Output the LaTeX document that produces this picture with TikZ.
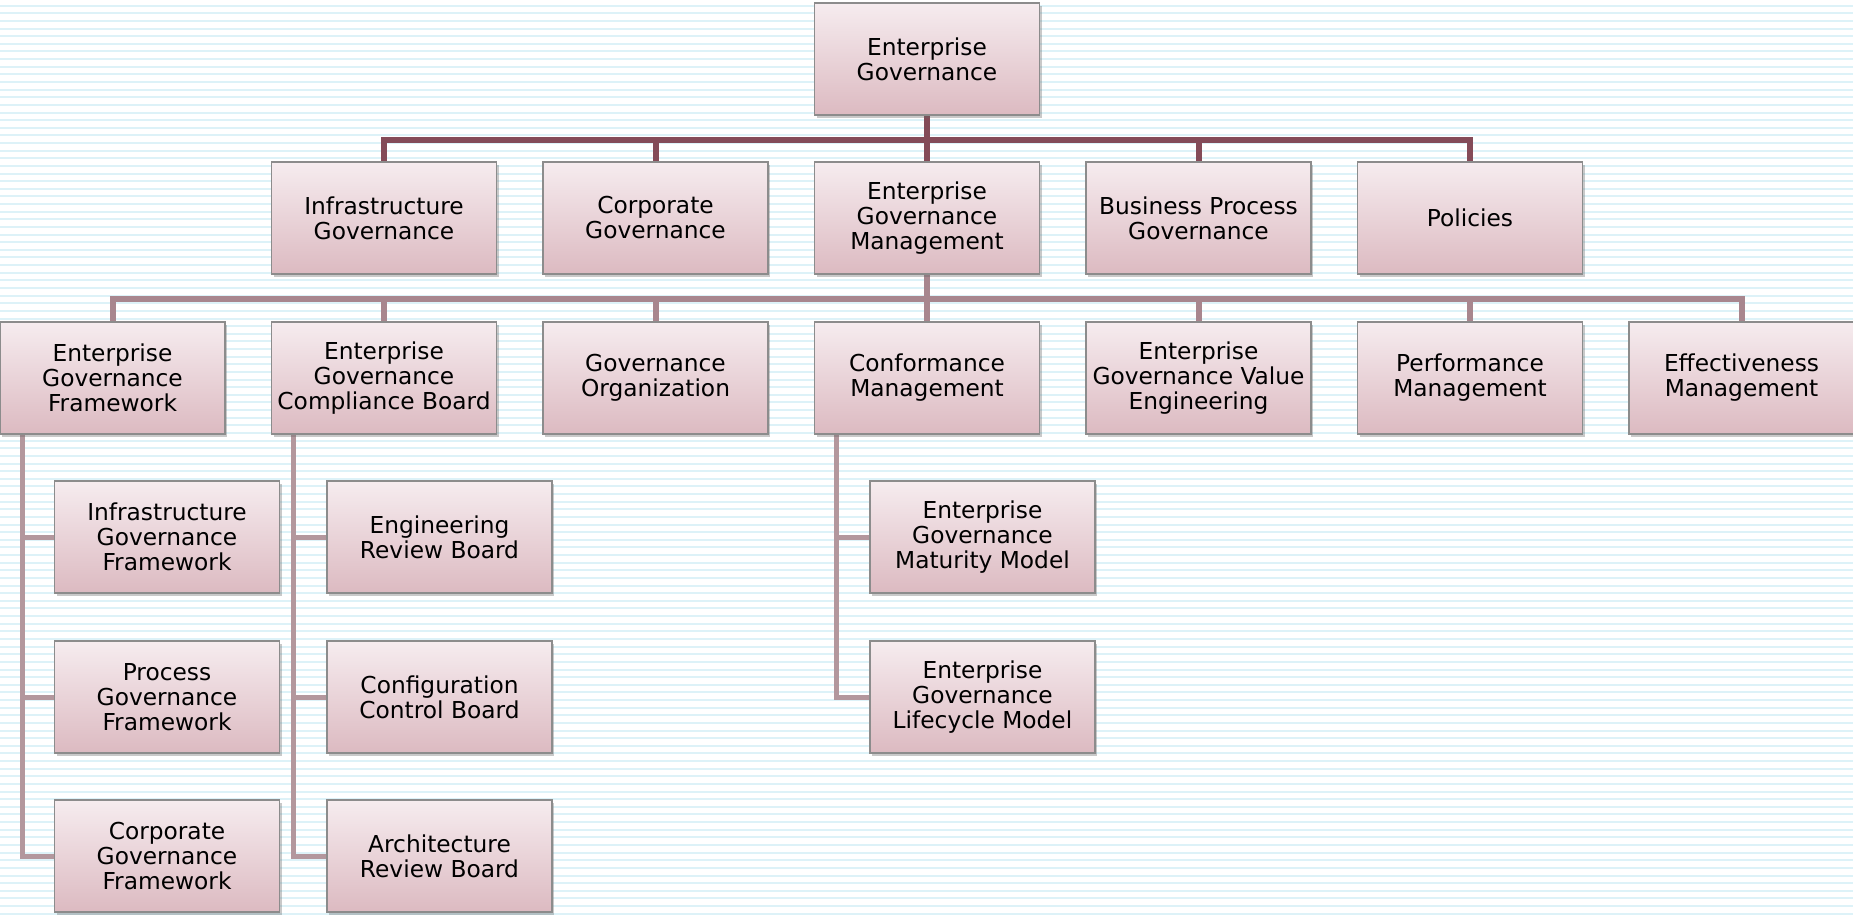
\documentclass[tikz,border=0pt]{standalone}
\usepackage{fontspec}
\setmainfont{DejaVu Sans}
\usetikzlibrary{shadows}
\pgfdeclarelayer{paper}
\pgfdeclarelayer{links}
\pgfsetlayers{paper,links,main}
\definecolor{bgline}{HTML}{DDF2F8}
\definecolor{conA}{HTML}{844B58}
\definecolor{conB}{HTML}{A8868E}
\definecolor{conC}{HTML}{B3979D}
\definecolor{boxtop}{HTML}{F6ECEF}
\definecolor{boxbot}{HTML}{DCBAC1}
\definecolor{boxline}{HTML}{8C8C8C}
\tikzset{
  govbox/.style={draw=boxline, line width=1.6pt, top color=boxtop, bottom color=boxbot,
    minimum width=225pt, minimum height=112pt, inner sep=0pt, align=center,
    font=\fontsize{23.3}{25}\selectfont,
    drop shadow={shadow xshift=2pt, shadow yshift=-3pt, opacity=0.35, fill=black!60}},
  linkA/.style={draw=conA, line width=6pt},
  linkB/.style={draw=conB, line width=6pt},
  linkC/.style={draw=conC, line width=5pt},
}
\begin{document}
\begin{tikzpicture}[x=1pt,y=-1pt]
\useasboundingbox (0,0) rectangle (1853,917);
\begin{pgfonlayer}{paper}
\fill[white] (0,0) rectangle (1853,917);
\foreach \i in {0,...,120} {
  \draw[bgline, line width=2pt] (0,{5.7+7.63*\i}) -- (1853,{5.7+7.63*\i});
}
\end{pgfonlayer}
% level 1
\node[govbox] (eg) at (927,59) {Enterprise\\Governance};
% level 2
\node[govbox] (ig) at (384,218) {Infrastructure\\Governance};
\node[govbox] (cg) at (655.5,218) {Corporate\\Governance};
\node[govbox] (egm) at (927,218) {Enterprise\\Governance\\Management};
\node[govbox] (bpg) at (1198.5,218) {Business Process\\Governance};
\node[govbox] (pol) at (1470,218) {Policies};
% level 3
\node[govbox] (egf) at (112.5,378) {Enterprise\\Governance\\Framework};
\node[govbox] (egcb) at (384,378) {Enterprise\\Governance\\Compliance Board};
\node[govbox] (go) at (655.5,378) {Governance\\Organization};
\node[govbox] (cm) at (927,378) {Conformance\\Management};
\node[govbox] (egve) at (1198.5,378) {Enterprise\\Governance Value\\Engineering};
\node[govbox] (pm) at (1470,378) {Performance\\Management};
\node[govbox] (em) at (1741.5,378) {Effectiveness\\Management};
% level 4
\node[govbox] (igf) at (167,537) {Infrastructure\\Governance\\Framework};
\node[govbox] (pgf) at (167,697) {Process\\Governance\\Framework};
\node[govbox] (cgf) at (167,856) {Corporate\\Governance\\Framework};
\node[govbox] (erb) at (439.5,537) {Engineering\\Review Board};
\node[govbox] (ccb) at (439.5,697) {Configuration\\Control Board};
\node[govbox] (arb) at (439.5,856) {Architecture\\Review Board};
\node[govbox] (egmm) at (982.5,537) {Enterprise\\Governance\\Maturity Model};
\node[govbox] (eglm) at (982.5,697) {Enterprise\\Governance\\Lifecycle Model};
% connectors
\begin{pgfonlayer}{links}
\foreach \c in {ig,cg,egm,bpg,pol} {
  \draw[linkA] (eg.south) -- ++(0,24) -| (\c.north);
}
\foreach \c in {egf,egcb,go,cm,egve,pm,em} {
  \draw[linkB] (egm.south) -- ++(0,24) -| (\c.north);
}
\foreach \p/\c in {egf/igf,egf/pgf,egf/cgf,egcb/erb,egcb/ccb,egcb/arb,cm/egmm,cm/eglm} {
  \draw[linkC] ([xshift=23pt]\p.south west) |- (\c.west);
}
\end{pgfonlayer}
\end{tikzpicture}
\end{document}
